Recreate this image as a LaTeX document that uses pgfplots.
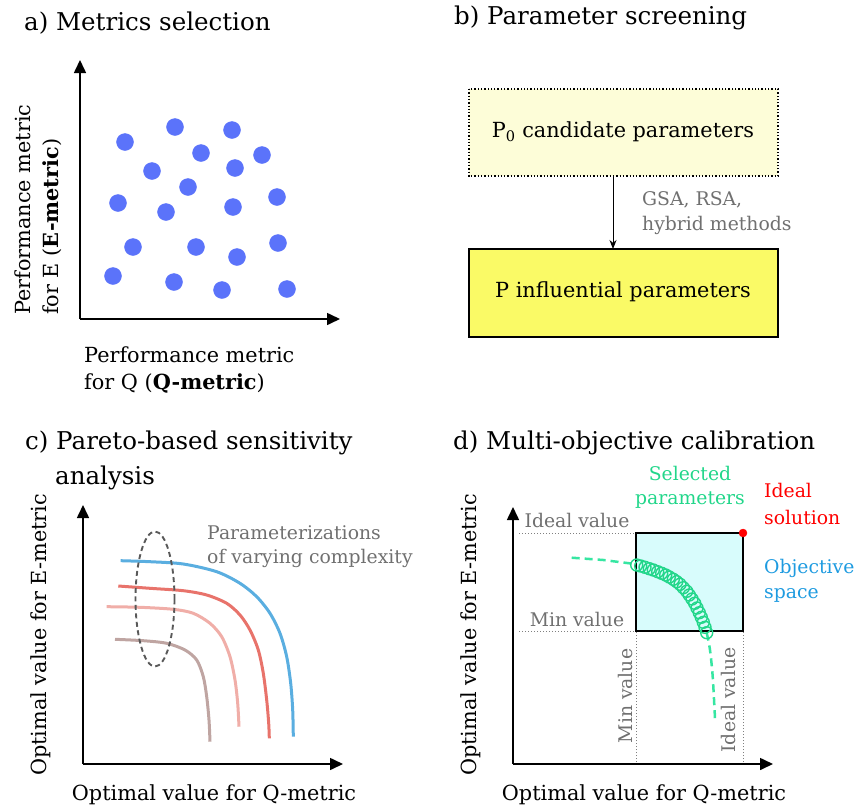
\documentclass[border=0pt]{standalone}
\usepackage{fontspec}
\setmainfont{DejaVu Serif}
\usepackage{pgfplots}
\pgfplotsset{compat=1.18}
\usetikzlibrary{arrows.meta}

\definecolor{dotblue}{HTML}{5B73FA}
\definecolor{paleyellow}{HTML}{FDFDD8}
\definecolor{brightyellow}{HTML}{FAFA66}
\definecolor{cblue}{HTML}{5AAEE0}
\definecolor{cred}{HTML}{E8736B}
\definecolor{cpink}{HTML}{F0AEA8}
\definecolor{cbrown}{HTML}{BFA5A2}
\definecolor{objcyan}{HTML}{D8FCFC}
\definecolor{selgreen}{HTML}{22D68A}
\definecolor{dashgreen}{HTML}{36E6A2}
\definecolor{objblue}{HTML}{1E9BE0}
\definecolor{txtgray}{HTML}{707070}

\pgfplotsset{
  sketch/.style={
    scale only axis, anchor=south west,
    axis lines=left,
    axis line style={line width=1.6pt, -{Triangle[width=12pt,length=13pt]}},
    xtick=\empty, ytick=\empty,
    xmin=0, ymin=0, clip=false,
  },
}

\newcommand{\ttl}{\fontsize{24.5}{28}\selectfont}
\newcommand{\lbl}{\fontsize{20.8}{24}\selectfont}
\newcommand{\sml}{\fontsize{18.8}{22}\selectfont}

\begin{document}
\begin{tikzpicture}
\useasboundingbox (0pt,0pt) rectangle (860pt,-809pt);

% ---------- a) metrics selection
\node[anchor=west, inner sep=0] at (24pt,-23pt) {\ttl a) Metrics selection};
\begin{axis}[sketch, at={(80pt,-319pt)}, width=260pt, height=259pt, xmax=260, ymax=259]
\addplot[only marks, mark=*, mark size=8.5pt, color=dotblue] coordinates {
  (45,177) (95,192) (152,189) (121,166) (182,164)
  (72,148) (155,151) (108,132) (38,116) (86,107)
  (153,112) (197,122) (53,72) (116,72) (157,62)
  (198,76) (33,43) (94,37) (142,29) (207,30)
};
\end{axis}
\node[anchor=west, rotate=90, inner sep=0] at (23pt,-315pt) {\lbl Performance metric};
\node[anchor=west, rotate=90, inner sep=0] at (52pt,-315pt) {\lbl for E (\textbf{E-metric})};
\node[anchor=west, inner sep=0] at (84pt,-355pt) {\lbl Performance metric};
\node[anchor=west, inner sep=0] at (84pt,-383pt) {\lbl for Q (\textbf{Q-metric})};

% ---------- b) parameter screening
\node[anchor=west, inner sep=0] at (454pt,-18pt) {\ttl b) Parameter screening};
\draw[dotted, line width=1.3pt, fill=paleyellow] (469pt,-89pt) rectangle (778pt,-176pt);
\node at (623pt,-132pt) {\lbl P\textsubscript{0} candidate parameters};
\draw[line width=1.2pt, fill=brightyellow] (469pt,-249pt) rectangle (778pt,-337pt);
\node at (623pt,-292pt) {\lbl P influential parameters};
\draw[line width=1pt, -{Stealth[length=9pt,width=7pt]}] (613pt,-176pt) -- (613pt,-249pt);
\node[anchor=west, inner sep=0, text=txtgray] at (642pt,-200pt) {\sml GSA, RSA,};
\node[anchor=west, inner sep=0, text=txtgray] at (642pt,-225pt) {\sml hybrid methods};

% ---------- c) Pareto-based sensitivity analysis
\node[anchor=west, inner sep=0] at (25pt,-443pt) {\ttl c) Pareto-based sensitivity};
\node[anchor=west, inner sep=0] at (55pt,-478pt) {\ttl analysis};
\begin{axis}[sketch, at={(83pt,-764pt)}, width=260pt, height=259pt, xmax=260, ymax=259]
\addplot[cblue, line width=3pt, smooth] coordinates {
  (37.7,203.3) (67,202.3) (100.3,200) (133.7,192.3) (157,180.7) (173.7,167.3)
  (187,150.7) (197,130.7) (203.7,107.3) (207.7,80.7) (209.7,54) (210.3,27.3)
};
\addplot[cred, line width=3pt, smooth] coordinates {
  (35.3,178) (67,175.7) (100.3,173.3) (123.7,169) (143.7,160.7) (157,149)
  (167,134) (175.3,114) (180.3,90.7) (183.7,64) (185.7,40.7) (186.3,25.7)
};
\addplot[cpink, line width=3pt, smooth] coordinates {
  (23.7,157.3) (57,156.7) (90.3,154.7) (110.3,150.7) (127,140.7) (138.7,127.3)
  (147,107.3) (152,84) (154.7,60.7) (156,37.3)
};
\addplot[cbrown, line width=3pt, smooth] coordinates {
  (32,124.7) (60.3,123.3) (83.7,120.7) (102,114) (113.7,104) (120.3,87.3)
  (123.7,67.3) (126,44) (127,22.3)
};
\draw[line width=1.9pt, color=black!65, dash pattern=on 5pt off 3.5pt]
  (axis cs:72,165) ellipse [x radius=19.5pt, y radius=67.5pt];
\end{axis}
\node[anchor=west, rotate=90, inner sep=0] at (41pt,-776pt) {\lbl Optimal value for E-metric};
\node[inner sep=0] at (214pt,-795pt) {\lbl Optimal value for Q-metric};
\node[anchor=west, inner sep=0, text=txtgray] at (207pt,-533pt) {\sml Parameterizations};
\node[anchor=west, inner sep=0, text=txtgray] at (207pt,-558pt) {\sml of varying complexity};

% ---------- d) multi-objective calibration
\node[anchor=west, inner sep=0] at (453pt,-443pt) {\ttl d) Multi-objective calibration};
\begin{axis}[sketch, at={(513pt,-764pt)}, width=260pt, height=257pt, xmax=260, ymax=257]
\addplot[gray, dotted, line width=1pt] coordinates {(6,231) (123,231)};
\addplot[gray, dotted, line width=1pt] coordinates {(6,133) (123,133)};
\addplot[gray, dotted, line width=1pt] coordinates {(123,2) (123,133)};
\addplot[gray, dotted, line width=1pt] coordinates {(230,2) (230,133)};
\addplot[fill=objcyan, draw=black, line width=2.6pt] coordinates {
  (123,133) (230,133) (230,231) (123,231)} -- cycle;
\addplot[dashgreen, line width=2.5pt, dash pattern=on 8pt off 5pt] coordinates {
  (58.7,206.3) (90.3,204) (122,200)
};
\addplot[dashgreen, line width=2.5pt, dash pattern=on 8pt off 5pt, smooth] coordinates {
  (193.7,131.3) (197,114) (199.7,87.3) (202,45.7)
};
\addplot[only marks, mark=o, mark size=6pt, color=selgreen, line width=1.4pt] coordinates {
  (123.7,199.0) (127.7,198.0) (132.0,196.7) (136.3,195.3) (140.3,194.0)
  (144.7,192.3) (148.7,190.7) (152.7,189.0) (156.3,187.0) (160.3,184.7)
  (163.7,182.3) (167.0,179.7) (170.3,176.3) (173.7,172.7) (176.3,169.0)
  (179.0,165.0) (181.7,160.7) (184.0,156.0) (186.3,151.3) (188.3,146.7)
  (190.3,141.7) (192.0,136.7) (193.7,131.3)
};
\addplot[only marks, mark=*, mark size=4pt, color=red] coordinates {(230,231)};
\end{axis}
\node[anchor=west, rotate=90, inner sep=0] at (471pt,-776pt) {\lbl Optimal value for E-metric};
\node[inner sep=0] at (644pt,-795pt) {\lbl Optimal value for Q-metric};
\node[inner sep=0, text=txtgray] at (577pt,-520pt) {\sml Ideal value};
\node[inner sep=0, text=txtgray] at (577pt,-619pt) {\sml Min value};
\node[inner sep=0, text=txtgray, rotate=90] at (625pt,-696pt) {\sml Min value};
\node[inner sep=0, text=txtgray, rotate=90] at (728pt,-700pt) {\sml Ideal value};
\node[inner sep=0, text=selgreen] at (690pt,-473pt) {\sml Selected};
\node[inner sep=0, text=selgreen] at (690pt,-500pt) {\sml parameters};
\node[anchor=west, inner sep=0, text=red] at (764pt,-490pt) {\sml Ideal};
\node[anchor=west, inner sep=0, text=red] at (764pt,-517pt) {\sml solution};
\node[anchor=west, inner sep=0, text=objblue] at (764pt,-568pt) {\sml Objective};
\node[anchor=west, inner sep=0, text=objblue] at (764pt,-595pt) {\sml space};
\end{tikzpicture}
\end{document}
